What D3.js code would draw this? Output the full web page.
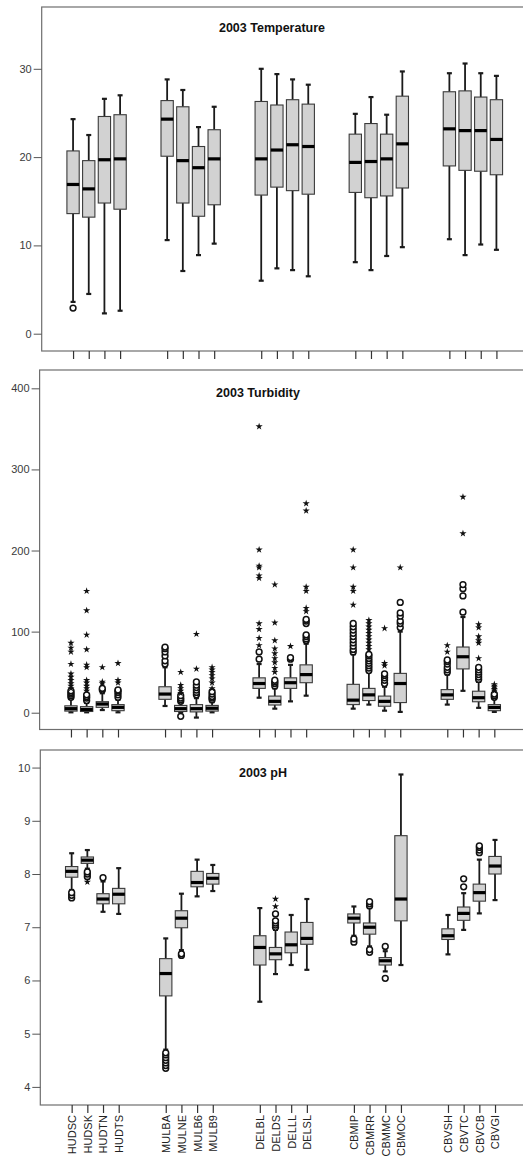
<!DOCTYPE html>
<html><head><meta charset="utf-8">
<script src="https://cdn.jsdelivr.net/npm/d3@7"></script>
<style>
html,body{margin:0;padding:0;background:#fff;}
svg{display:block;font-family:"Liberation Sans",Arial,sans-serif;}
</style></head>
<body><svg id="c" width="523" height="1158"></svg>
<script>
// ---------- DATA ----------
const categories = ["HUDSC","HUDSK","HUDTN","HUDTS","MULBA","MULNE","MULB6","MULB9","DELBL","DELDS","DELLL","DELSL","CBMIP","CBMRR","CBMMC","CBMOC","CBVSH","CBVTC","CBVCB","CBVGI"];

// 2003 Temperature
const tempLo  = [3.6, 4.5, 2.3, 2.6, 10.6, 7.1, 8.9, 10.2, 6.0, 7.4, 7.2, 6.5, 8.1, 7.2, 8.8, 9.8, 10.7, 8.9, 10.1, 9.5];
const tempQ1  = [13.6,13.2,14.8,14.1,20.1,14.8,13.3,14.6,15.7,16.6,16.2,15.8,16.0,15.4,15.6,16.5,19.0,18.5,18.4,18.0];
const tempMed = [16.9,16.4,19.7,19.8,24.3,19.6,18.8,19.8,19.8,20.8,21.4,21.2,19.4,19.5,19.8,21.5,23.2,23.0,23.0,22.0];
const tempQ3  = [20.7,19.6,24.6,24.8,26.4,25.7,21.2,23.1,26.3,25.9,26.5,26.0,22.6,23.8,22.6,26.9,27.4,27.5,26.8,26.5];
const tempHi  = [24.3,22.5,26.6,27.0,28.8,27.6,23.4,25.7,30.0,29.4,28.8,28.2,24.9,26.8,24.8,29.7,29.5,30.6,29.5,29.2];
const tempCircles = [[2.9],[],[],[],[],[],[],[],[],[],[],[],[],[],[],[],[],[],[],[]];
const tempStars   = [[],[],[],[],[],[],[],[],[],[],[],[],[],[],[],[],[],[],[],[]];
const tempTicks = [0,10,20,30];

// 2003 Turbidity
const turbLo  = [0.5, 0.5, 3.3, 0.5, 8.3, 0.5, -6, 0.5, 18.5, 5, 14, 21, 5, 10, 2.5, 1, 10, 27, 6, 1];
const turbQ1  = [2, 1.5, 6.6, 2.5, 16.5, 1.5, 1, 2, 30, 9.5, 30, 37, 10, 15, 8, 12.5, 16.5, 54, 13.5, 2.5];
const turbMed = [5, 4, 10.7, 6.6, 23, 5, 5, 5.5, 36, 14, 37, 47, 15.5, 22, 14, 36, 22, 69, 18.5, 6.5];
const turbQ3  = [8.5, 7.5, 13.6, 10, 32, 9, 10, 9, 43, 20.5, 43, 59, 35, 30, 20.5, 48.5, 28.5, 81, 26.5, 10];
const turbHi  = [17, 12, 24, 16, 56, 12, 18, 13, 60, 30, 59, 85, 72, 50, 32, 100, 47, 118, 38, 17];
const turbCircles = [
  [19,21,23,25,27],[15,18,20,22],[28,30],[19,22,25,27,28],
  [60,64,70,75,79,81],[14,16,18,21,-4.5],[22,25,28,31,34,38],[16,18,20,23,26],
  [66,75],[33,36,38,40],[66,68],[89,91,94,96,110,113,115],
  [75,78,82,86,90,94,98,102,106,110],[52,55,58,61,64,67,70,72],[36,40,43,46,48],[105,110,113,119,123,136],
  [50,53,56,60,63,65],[124,144,153,158],[41,44,47,50,53,56],[19,21,23]
];
const turbStars = [
  [30,33,36,40,44,48,60,75,80,86],[27,30,33,37,40,56,59,78,96,126,150],[36,38,56],[37,40,61],
  [],[24,27,30,34,50],[54,97],[30,37,42,46,50,53,56],
  [83,92,103,110,166,169,179,181,201,353],[50,55,62,67,73,79,89,111,158],[82],[125,129,150,155,249,258],
  [133,150,155,179,201],[78,82,86,90,94,98,102,106,110,114],[58,61,104],[179],
  [75,83],[221,266],[67,86,89,94,105,109],[27,29,31,33,35]
];
const turbTicks = [0,100,200,300,400];

// 2003 pH
const phLo  = [7.70,8.10,7.29,7.25,4.70,6.57,7.58,7.68,5.60,6.12,6.29,6.20,6.84,6.64,6.17,6.29,6.49,6.95,7.26,7.51];
const phQ1  = [7.94,8.20,7.44,7.44,5.71,6.99,7.76,7.81,6.29,6.39,6.52,6.68,7.08,6.87,6.29,7.12,6.77,7.13,7.49,8.00];
const phMed = [8.05,8.26,7.53,7.62,6.13,7.17,7.84,7.92,6.62,6.50,6.67,6.79,7.17,7.00,6.37,7.53,6.84,7.26,7.65,8.15];
const phQ3  = [8.14,8.32,7.63,7.73,6.41,7.31,8.05,8.01,6.84,6.62,6.91,7.09,7.25,7.08,6.43,8.72,6.97,7.38,7.81,8.33];
const phHi  = [8.39,8.45,7.86,8.11,6.79,7.63,8.27,8.17,7.36,6.95,7.23,7.53,7.39,7.38,6.55,9.87,7.23,7.64,8.27,8.64];
const phCircles = [
  [7.55,7.60,7.65],[7.95,8.00,8.04],[7.93],[],
  [4.35,4.40,4.45,4.50,4.55,4.60,4.64],[6.47,6.50],[],[],
  [],[7.00,7.04,7.08,7.12,7.25],[],[],
  [6.72,6.78],[7.40,7.44,7.48,6.53,6.58],[6.64,6.04],[],
  [],[7.76,7.91],[8.40,8.45,8.50,8.53],[]
];
const phStars = [
  [],[7.85],[],[],[],[],[],[],
  [],[7.39,7.53],[],[],[],[],[],[],
  [],[],[],[]
];
const phTicks = [4,5,6,7,8,9,10];

// ---------- DRAW ----------
const svg = d3.select("#c");
const slotStep = 15.68;
const slotOf = i => i + 2 * Math.floor(i / 4);

function panel(cfg) {
  const g = svg.append("g");
  const x = d3.scaleLinear().domain([-2, 29]).range([cfg.left, cfg.left + 31 * slotStep]);
  const y = d3.scaleLinear().domain(cfg.domain).range([cfg.bottom, cfg.top]);

  // frame
  g.append("rect").attr("x", cfg.left).attr("y", cfg.top)
    .attr("width", 535 - cfg.left).attr("height", cfg.bottom - cfg.top)
    .attr("fill", "#fff").attr("stroke", "#6e6e6e").attr("stroke-width", 1.2);

  // y axis
  const ya = g.append("g").attr("transform", `translate(${cfg.left},0)`)
    .call(d3.axisLeft(y).tickValues(cfg.ticks).tickSize(8).tickPadding(2).tickFormat(d3.format("d")));
  ya.select(".domain").remove();
  ya.selectAll("line").attr("stroke", "#555");
  ya.selectAll("text").attr("fill", "#3a3a3a").style("font-size", "11px")
    .style("font-family", "'Liberation Sans',Arial,sans-serif");

  // x axis
  const xa = g.append("g").attr("transform", `translate(0,${cfg.bottom})`)
    .call(d3.axisBottom(x).tickValues(categories.map((c, i) => slotOf(i)))
      .tickSize(8).tickPadding(2)
      .tickFormat((d) => {
        if (!cfg.labels) return "";
        const i = categories.findIndex((c, k) => slotOf(k) === d);
        return categories[i];
      }));
  xa.select(".domain").remove();
  xa.selectAll("line").attr("stroke", "#333").attr("stroke-width", 1.2);
  if (cfg.labels) {
    xa.selectAll("text")
      .attr("transform", "rotate(-90)")
      .attr("x", -10).attr("y", 0).attr("dy", "0.36em")
      .attr("text-anchor", "end")
      .attr("fill", "#222").style("font-size", "11px")
      .style("font-family", "'Liberation Sans',Arial,sans-serif");
  }

  // title
  g.append("text").attr("x", cfg.titleX).attr("y", cfg.titleY)
    .attr("text-anchor", "middle").style("font-size", "12.5px").style("font-weight", "bold")
    .attr("fill", "#111").text(cfg.title);

  const bw = 12.3;
  const d = cfg.data;
  categories.forEach((c, i) => {
    const cx = x(slotOf(i));
    const bg = g.append("g");
    // whiskers
    bg.append("line").attr("x1", cx).attr("x2", cx)
      .attr("y1", y(d.hi[i])).attr("y2", y(d.q3[i]))
      .attr("stroke", "#1a1a1a").attr("stroke-width", 1.8);
    bg.append("line").attr("x1", cx).attr("x2", cx)
      .attr("y1", y(d.q1[i])).attr("y2", y(d.lo[i]))
      .attr("stroke", "#1a1a1a").attr("stroke-width", 1.8);
    [d.hi[i], d.lo[i]].forEach(v => {
      bg.append("line").attr("x1", cx - 2.5).attr("x2", cx + 2.5)
        .attr("y1", y(v)).attr("y2", y(v))
        .attr("stroke", "#1a1a1a").attr("stroke-width", 2.2);
    });
    // box
    bg.append("rect").attr("x", cx - bw / 2).attr("y", y(d.q3[i]))
      .attr("width", bw).attr("height", Math.max(1, y(d.q1[i]) - y(d.q3[i])))
      .attr("fill", "#d2d2d2").attr("stroke", "#3a3a3a").attr("stroke-width", 1.1);
    // median
    bg.append("line").attr("x1", cx - bw / 2).attr("x2", cx + bw / 2)
      .attr("y1", y(d.med[i])).attr("y2", y(d.med[i]))
      .attr("stroke", "#000").attr("stroke-width", 3.2);
    // outliers
    d.circles[i].forEach(v => {
      bg.append("circle").attr("cx", cx).attr("cy", y(v)).attr("r", 2.9)
        .attr("fill", "#fff").attr("stroke", "#111").attr("stroke-width", 1.5);
    });
    d.stars[i].forEach(v => {
      bg.append("path").attr("d", d3.symbol().type(d3.symbolStar).size(16)())
        .attr("transform", `translate(${cx},${y(v)})`).attr("fill", "#111");
    });
  });
}

panel({
  title: "2003 Temperature", titleX: 272, titleY: 32,
  left: 41.7, top: 7, bottom: 351, domain: [-1.96, 37], ticks: tempTicks, labels: false,
  data: {lo: tempLo, q1: tempQ1, med: tempMed, q3: tempQ3, hi: tempHi, circles: tempCircles, stars: tempStars}
});
panel({
  title: "2003 Turbidity", titleX: 258, titleY: 397,
  left: 39.6, top: 370, bottom: 729.5, domain: [-20.7, 422.6], ticks: turbTicks, labels: false,
  data: {lo: turbLo, q1: turbQ1, med: turbMed, q3: turbQ3, hi: turbHi, circles: turbCircles, stars: turbStars}
});
panel({
  title: "2003 pH", titleX: 263, titleY: 777,
  left: 40.3, top: 750, bottom: 1105, domain: [3.66, 10.33], ticks: phTicks, labels: true,
  data: {lo: phLo, q1: phQ1, med: phMed, q3: phQ3, hi: phHi, circles: phCircles, stars: phStars}
});
</script>
</body></html>
